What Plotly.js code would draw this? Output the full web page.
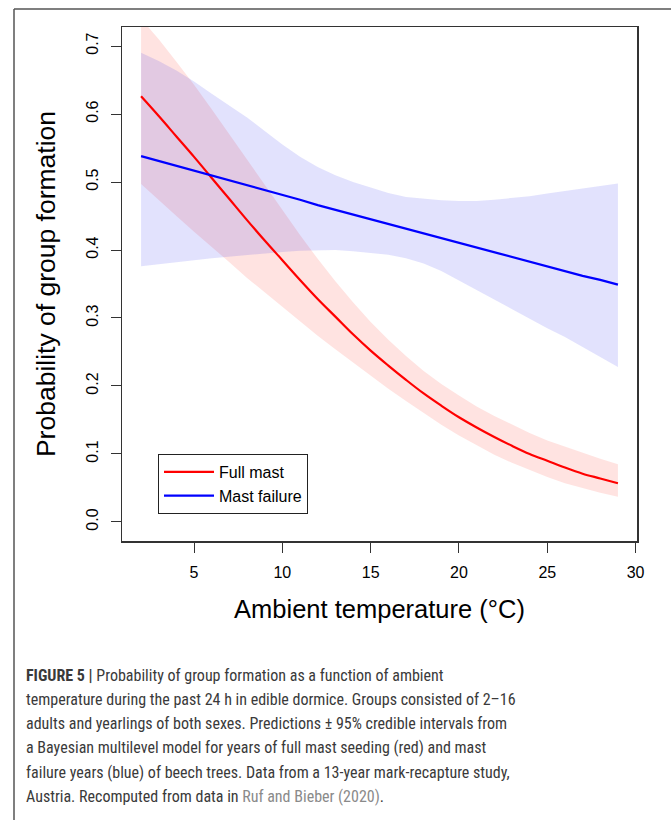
<!DOCTYPE html>
<html>
<head>
<meta charset="utf-8">
<script src="https://cdn.plot.ly/plotly-3.0.1.min.js"></script>
<style>
  html, body { margin: 0; padding: 0; background: #fff; }
  #chart { width: 671px; height: 820px; }
</style>
</head>
<body>
<div id="chart"></div>
<script>
// ---- Data ----
const temperature = [2, 3, 4, 5, 6, 7, 8, 9, 10, 11, 12, 13, 14, 15, 16, 17, 18, 19, 20, 21, 22, 23, 24, 25, 26, 27, 28, 29];

const fullMastMean  = [0.626, 0.597, 0.567, 0.537, 0.506, 0.475, 0.444, 0.414, 0.385, 0.356, 0.328, 0.302, 0.276, 0.252, 0.230, 0.209, 0.189, 0.171, 0.154, 0.139, 0.125, 0.112, 0.100, 0.090, 0.080, 0.071, 0.064, 0.057];
const fullMastUpper = [0.740, 0.710, 0.677, 0.643, 0.607, 0.570, 0.533, 0.496, 0.459, 0.422, 0.387, 0.354, 0.323, 0.294, 0.268, 0.244, 0.222, 0.203, 0.186, 0.170, 0.156, 0.143, 0.131, 0.120, 0.111, 0.101, 0.093, 0.085];
const fullMastLower = [0.497, 0.474, 0.450, 0.427, 0.404, 0.382, 0.359, 0.337, 0.316, 0.295, 0.274, 0.254, 0.234, 0.215, 0.196, 0.178, 0.160, 0.143, 0.127, 0.113, 0.099, 0.087, 0.076, 0.066, 0.057, 0.050, 0.043, 0.037];

const failureMean  = [0.538, 0.531, 0.524, 0.516, 0.509, 0.502, 0.495, 0.488, 0.481, 0.474, 0.466, 0.459, 0.452, 0.445, 0.438, 0.431, 0.424, 0.417, 0.410, 0.403, 0.396, 0.389, 0.383, 0.376, 0.369, 0.362, 0.356, 0.349];
const failureUpper = [0.690, 0.678, 0.664, 0.648, 0.630, 0.613, 0.595, 0.575, 0.555, 0.537, 0.522, 0.510, 0.500, 0.492, 0.484, 0.478, 0.475, 0.473, 0.472, 0.472, 0.474, 0.476, 0.479, 0.483, 0.487, 0.491, 0.495, 0.498];
const failureLower = [0.376, 0.379, 0.382, 0.385, 0.388, 0.390, 0.392, 0.395, 0.397, 0.399, 0.400, 0.400, 0.398, 0.396, 0.393, 0.388, 0.380, 0.369, 0.356, 0.342, 0.328, 0.313, 0.299, 0.285, 0.272, 0.258, 0.243, 0.228];

const seriesNames = ["Full mast", "Mast failure"];
const xTickVals = [5, 10, 15, 20, 25, 30];
const yTickVals = [0.0, 0.1, 0.2, 0.3, 0.4, 0.5, 0.6, 0.7];

const captionLines = [
  "<b>FIGURE 5 |</b> Probability of group formation as a function of ambient",
  "temperature during the past 24 h in edible dormice. Groups consisted of 2–16",
  "adults and yearlings of both sexes. Predictions ± 95% credible intervals from",
  "a Bayesian multilevel model for years of full mast seeding (red) and mast",
  "failure years (blue) of beech trees. Data from a 13-year mark-recapture study,",
  "Austria. Recomputed from data in <span style=\"color:#8a8a8a\">Ruf and Bieber (2020)</span>."
];

// ---- pick a condensed font if one is installed ----
function pickFont(cands, fallback) {
  const c = document.createElement('canvas').getContext('2d');
  const s = 'abcdefghijklmnopqrstuvwxyz ABCDEFGHIJ 0123456789';
  for (const f of cands) {
    let ok = true;
    for (const g of ['monospace', 'serif']) {
      c.font = '20px ' + g; const w0 = c.measureText(s).width;
      c.font = '20px "' + f + '", ' + g; const w1 = c.measureText(s).width;
      if (Math.abs(w0 - w1) < 0.5) { ok = false; break; }
    }
    if (ok) return f;
  }
  return fallback;
}
const condensed = pickFont(['Liberation Sans Narrow', 'Arial Narrow', 'Roboto Condensed', 'DejaVu Sans Condensed', 'Open Sans Condensed'], null);

// ---- geometry ----
const W = 671, H = 820;
const M = { l: 122, r: 34, t: 27, b: 279 };
const PW = W - M.l - M.r, PH = H - M.t - M.b;
const px = v => (v - M.l) / PW;          // pixel x -> paper x
const py = v => (H - M.b - v) / PH;      // pixel y -> paper y

const mainFont = 'Liberation Sans, Arial, Helvetica, sans-serif';
const capFont = condensed ? ('"' + condensed + '", Liberation Sans, sans-serif') : mainFont;
const capSize = condensed ? 16 : 13.5;

const traces = [
  {
    x: temperature.concat(temperature.slice().reverse()),
    y: fullMastUpper.concat(fullMastLower.slice().reverse()),
    type: 'scatter', mode: 'lines', fill: 'toself',
    fillcolor: 'rgba(255,40,20,0.13)', line: { width: 0 },
    hoverinfo: 'skip', showlegend: false
  },
  {
    x: temperature.concat(temperature.slice().reverse()),
    y: failureUpper.concat(failureLower.slice().reverse()),
    type: 'scatter', mode: 'lines', fill: 'toself',
    fillcolor: 'rgba(30,30,240,0.13)', line: { width: 0 },
    hoverinfo: 'skip', showlegend: false
  },
  {
    x: temperature, y: fullMastMean, name: seriesNames[0],
    type: 'scatter', mode: 'lines', line: { color: '#ff0000', width: 2.2, shape: 'spline' }
  },
  {
    x: temperature, y: failureMean, name: seriesNames[1],
    type: 'scatter', mode: 'lines', line: { color: '#0000ff', width: 2.2 }
  }
];

const annotations = captionLines.map((t, i) => ({
  text: t, xref: 'paper', yref: 'paper',
  x: px(24), y: py(675 + i * 24.3), xanchor: 'left', yanchor: 'middle',
  showarrow: false, align: 'left',
  font: { family: capFont, size: capSize, color: '#3a3a3a' }
}));

const shapes = [
  // outer figure frame (top and left edges)
  { type: 'line', xref: 'paper', yref: 'paper', x0: px(14), x1: px(671), y0: py(9), y1: py(9), line: { color: '#555555', width: 1.5 } },
  { type: 'line', xref: 'paper', yref: 'paper', x0: px(14), x1: px(14), y0: py(9), y1: py(820), line: { color: '#555555', width: 1.5 } }
];

const layout = {
  width: W, height: H,
  margin: M,
  paper_bgcolor: '#ffffff', plot_bgcolor: '#ffffff',
  showlegend: true,
  legend: {
    x: px(158), y: py(454), xanchor: 'left', yanchor: 'top',
    bordercolor: '#222222', borderwidth: 1, bgcolor: '#ffffff',
    font: { family: mainFont, size: 16, color: '#000' },
    itemwidth: 50,
    tracegroupgap: 2
  },
  xaxis: {
    range: [0.92, 30.08], tickvals: xTickVals, ticks: 'outside', ticklen: 10, tickwidth: 1,
    tickcolor: '#333', showline: true, linecolor: '#333', linewidth: 1.5, mirror: true,
    showgrid: false, zeroline: false,
    tickfont: { family: mainFont, size: 16, color: '#000' },
    ticklabelstandoff: 6,
    title: { text: 'Ambient temperature (°C)', font: { family: mainFont, size: 25.5, color: '#000' }, standoff: 20 }
  },
  yaxis: {
    range: [-0.028, 0.728], tickvals: yTickVals, tickformat: '.1f', ticks: 'outside', ticklen: 10, tickwidth: 1,
    tickcolor: '#333', showline: true, linecolor: '#333', linewidth: 1.5, mirror: true,
    showgrid: false, zeroline: false, tickangle: -90,
    tickfont: { family: mainFont, size: 16, color: '#000' },
    ticklabelstandoff: 6,
    title: { text: 'Probability of group formation', font: { family: mainFont, size: 26.5, color: '#000' }, standoff: 21 }
  },
  annotations: annotations,
  shapes: shapes
};

Plotly.newPlot('chart', traces, layout, { displayModeBar: false, staticPlot: true });
</script>
</body>
</html>
